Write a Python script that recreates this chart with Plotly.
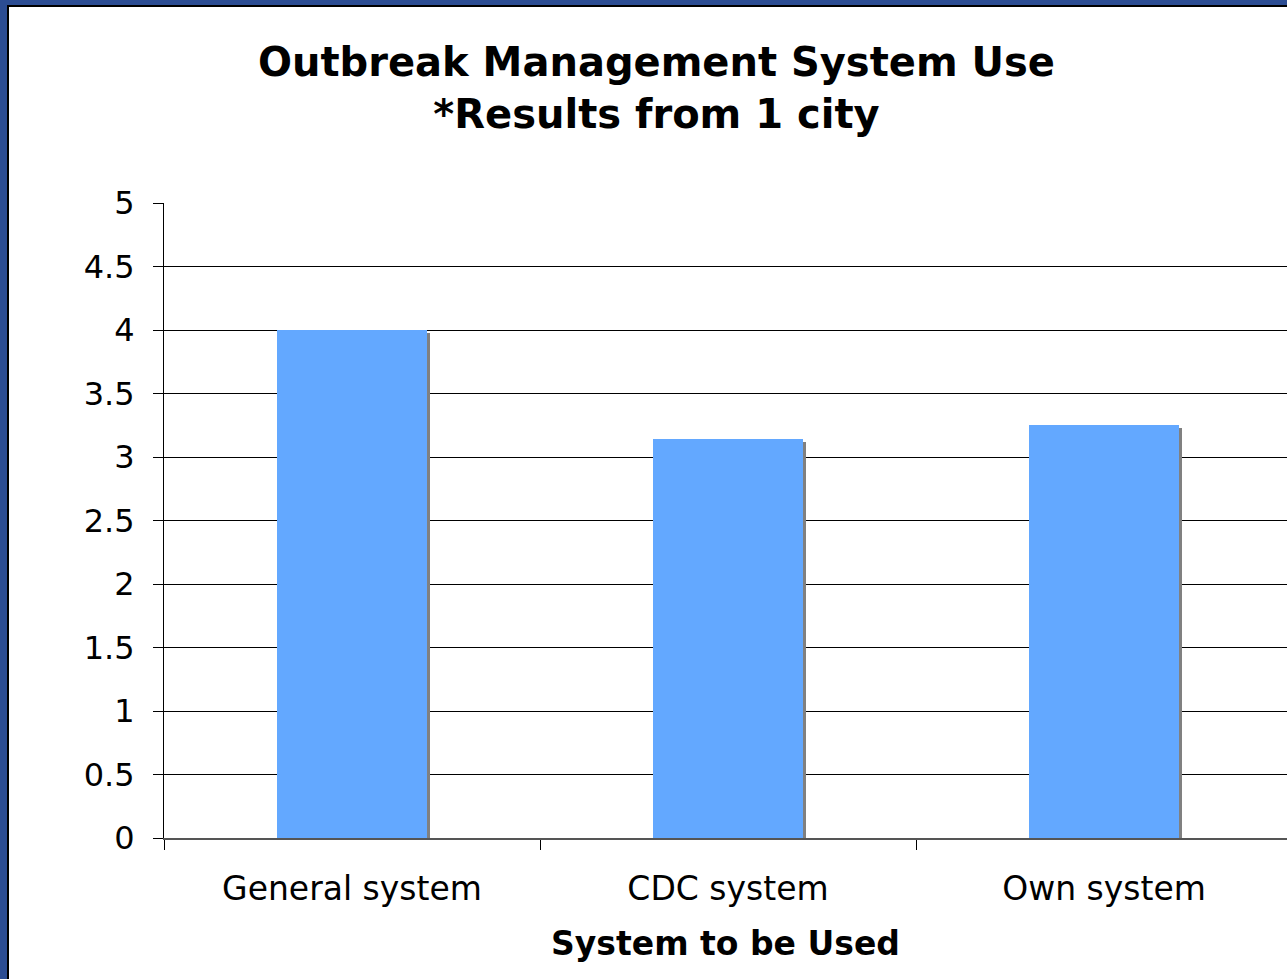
import plotly.graph_objects as go

# Survey result: preferred outbreak management system (1 city)
categories = ["General system", "CDC system", "Own system"]
values = [4.0, 3.14, 3.25]
y_ticks = [0, 0.5, 1, 1.5, 2, 2.5, 3, 3.5, 4, 4.5, 5]
y_tick_labels = ["0", "0.5", "1", "1.5", "2", "2.5", "3", "3.5", "4", "4.5", "5"]

W, H = 1287, 979
M_L, M_R, M_T, M_B = 164, 0, 203, 141
plot_w = W - M_L - M_R
plot_h = H - M_T - M_B
cat_px = 376.0                      # pixel width of one category slot
x_max = -0.5 + plot_w / cat_px      # plot runs past the right edge of the slide
px_x = 1.0 / cat_px                 # one pixel in category units
px_y = 5.0 / plot_h                 # one pixel in value units

BAR_W = 0.4
SHADOW_DX = 3 * px_x
SHADOW_DY = 3 * px_y

FONT = "Verdana, DejaVu Sans, sans-serif"

fig = go.Figure()

# drop shadow behind each bar
fig.add_trace(go.Bar(
    x=categories,
    y=[v - SHADOW_DY for v in values],
    width=BAR_W,
    offset=-BAR_W / 2 + SHADOW_DX,
    marker=dict(color="#808080", line=dict(width=0)),
    hoverinfo="skip",
    showlegend=False,
))

fig.add_trace(go.Bar(
    x=categories,
    y=values,
    width=BAR_W,
    offset=-BAR_W / 2,
    marker=dict(color="#63a8ff", line=dict(width=0)),
    showlegend=False,
))

# slide frame: blue border with a thin black edge around the white page
def paper_x(px):
    return (px - M_L) / plot_w

def paper_y(py):
    return (H - M_B - py) / plot_h

fig.add_shape(type="rect", xref="paper", yref="paper", layer="below",
              x0=paper_x(-5), x1=paper_x(W + 5), y0=paper_y(H + 5), y1=paper_y(-5),
              fillcolor="#2c4d93", line=dict(width=0))
fig.add_shape(type="rect", xref="paper", yref="paper", layer="below",
              x0=paper_x(8), x1=paper_x(W + 10), y0=paper_y(H + 10), y1=paper_y(6),
              fillcolor="white", line=dict(color="black", width=2))

# two-line chart title
fig.add_annotation(
    text="<b>Outbreak Management System Use</b><br><b>*Results from 1 city</b>",
    xref="paper", yref="paper",
    x=paper_x(656), y=paper_y(37),
    xanchor="center", yanchor="top",
    showarrow=False,
    font=dict(family=FONT, size=40, color="black"),
)

fig.update_layout(
    width=W, height=H,
    margin=dict(l=M_L, r=M_R, t=M_T, b=M_B),
    paper_bgcolor="white",
    plot_bgcolor="#cccccc",
    barmode="overlay",
    bargap=0,
    font=dict(family=FONT, color="black", size=33),
    xaxis=dict(
        range=[-0.5, x_max],
        showgrid=False,
        showline=True, linecolor="#555555", linewidth=2,
        ticks="outside", tickson="boundaries", ticklen=10,
        tickcolor="black", tickwidth=1,
        ticklabelstandoff=20,
        tickfont=dict(size=33),
        title=dict(text="<b>System to be Used</b>", font=dict(size=33), standoff=25),
    ),
    yaxis=dict(
        range=[0, 5],
        tickvals=y_ticks, ticktext=y_tick_labels,
        showgrid=True, gridcolor="black", gridwidth=1,
        zeroline=False,
        showline=True, linecolor="black", linewidth=1,
        ticks="outside", ticklen=10, tickcolor="black",
        ticklabelstandoff=12,
        tickfont=dict(size=32),
    ),
)

fig.write_html("out.html")
